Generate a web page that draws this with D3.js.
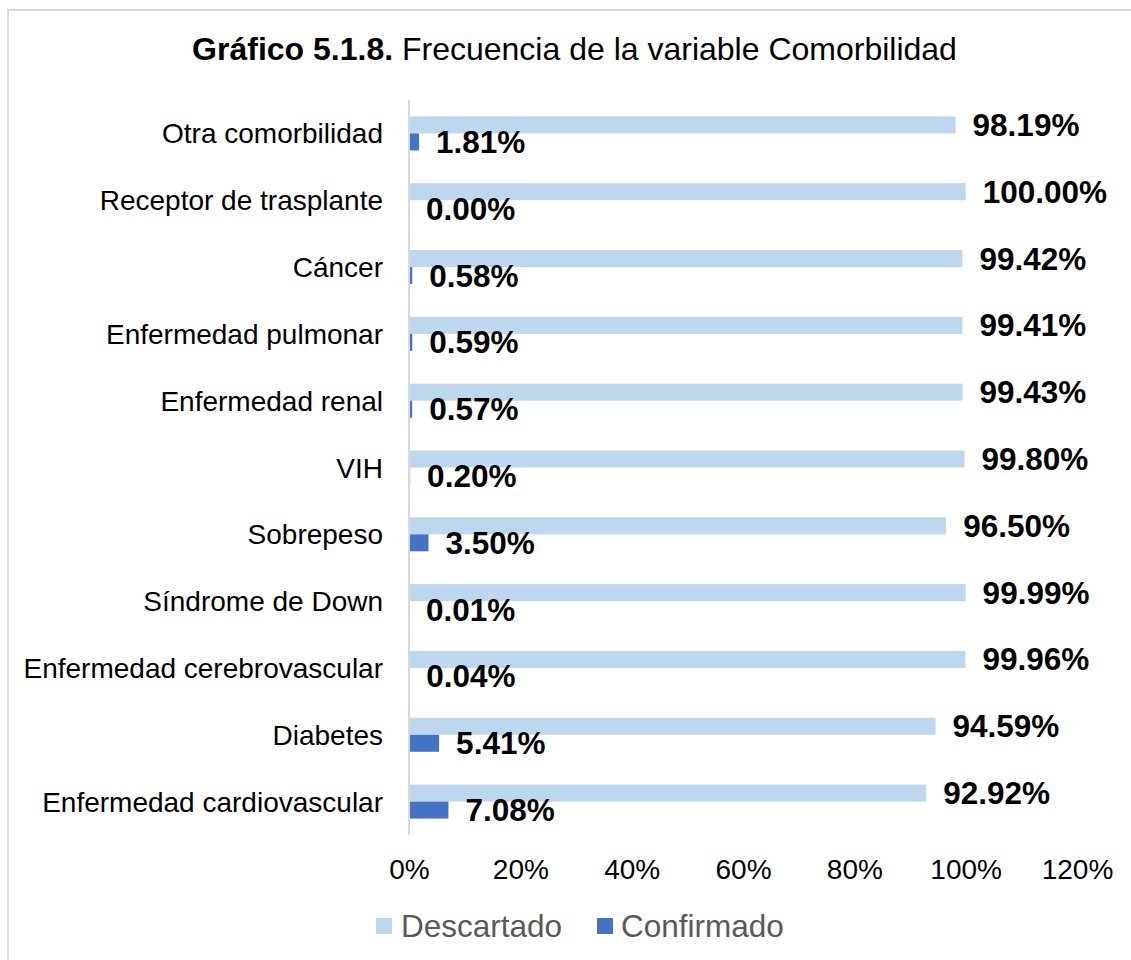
<!DOCTYPE html>
<html><head><meta charset="utf-8">
<script src="https://cdn.jsdelivr.net/npm/d3@7"></script>
<style>html,body{margin:0;padding:0;background:#fff;}svg{display:block;font-family:"Liberation Sans",Arial,sans-serif;}</style>
</head><body>
<svg id="c" width="1131" height="960"></svg>
<script>
const categories = ["Otra comorbilidad","Receptor de trasplante","Cáncer","Enfermedad pulmonar","Enfermedad renal","VIH","Sobrepeso","Síndrome de Down","Enfermedad cerebrovascular","Diabetes","Enfermedad cardiovascular"];
const descartado = [98.19,100.00,99.42,99.41,99.43,99.80,96.50,99.99,99.96,94.59,92.92];
const confirmado = [1.81,0.00,0.58,0.59,0.57,0.20,3.50,0.01,0.04,5.41,7.08];
const seriesNames = ["Descartado","Confirmado"];
const seriesColors = ["#BDD7EE","#4472C4"];
const xTicks = [0,20,40,60,80,100,120];

const svg = d3.select("#c");
// border
svg.append("rect").attr("x",8).attr("y",10).attr("width",1140).attr("height",960)
  .attr("fill","none").attr("stroke","#d9d9d9").attr("stroke-width",2);

// title
const title = svg.append("text").attr("x",574.5).attr("y",60).attr("text-anchor","middle")
  .attr("font-size",32).attr("fill","#000");
title.append("tspan").attr("font-weight","bold").text("Gráfico 5.1.8.");
title.append("tspan").text(" Frecuencia de la variable Comorbilidad");

const x = d3.scaleLinear().domain([0,120]).range([409,1077]);
const y = d3.scaleBand().domain(categories).range([100,835]).paddingInner(0).paddingOuter(0);
const ySub = d3.scaleBand().domain(seriesNames).range([0,y.bandwidth()]).paddingInner(0).paddingOuter(0.965);

const data = categories.map((c,i)=>({cat:c, vals:[descartado[i],confirmado[i]]}));

const g = svg.append("g");
data.forEach(d=>{
  seriesNames.forEach((s,k)=>{
    const v = d.vals[k];
    const yy = y(d.cat)+ySub(s);
    g.append("rect").attr("x",x(0)).attr("y",yy).attr("width",x(v)-x(0)).attr("height",ySub.bandwidth())
      .attr("fill",seriesColors[k]);
  });
});
// labels
data.forEach(d=>{
  seriesNames.forEach((s,k)=>{
    const v = d.vals[k];
    const yc = y(d.cat)+ySub(s)+ySub.bandwidth()/2;
    g.append("text").attr("x",x(v)+17).attr("y",yc+11).attr("font-size",31.5).attr("font-weight","bold")
      .attr("fill","#000").text(v.toFixed(2)+"%");
  });
});

// axis line
svg.append("line").attr("x1",x(0)).attr("x2",x(0)).attr("y1",100).attr("y2",835)
  .attr("stroke","#d9d9d9").attr("stroke-width",2);

// category labels
categories.forEach(c=>{
  svg.append("text").attr("x",383).attr("y",y(c)+y.bandwidth()/2+10).attr("text-anchor","end")
    .attr("font-size",28).attr("fill","#000").text(c);
});

// x tick labels
const xAxis = d3.axisBottom(x).tickValues(xTicks).tickFormat(d=>d+"%").tickSize(0).tickPadding(0);
const ax = svg.append("g").attr("transform","translate(0,859)").call(xAxis);
ax.select(".domain").remove();
ax.selectAll("text").attr("font-size",28).attr("fill","#000").attr("font-family","Liberation Sans, Arial, sans-serif")
  .attr("dy","0.71em");

// legend
const legend = [{name:"Descartado",sx:376,tx:401},{name:"Confirmado",sx:597,tx:621}];
legend.forEach((l,k)=>{
  svg.append("rect").attr("x",l.sx).attr("y",918).attr("width",16).attr("height",16).attr("fill",seriesColors[k]);
  svg.append("text").attr("x",l.tx).attr("y",937).attr("font-size",31.5).attr("fill","#595959").text(l.name);
});
</script>
</body></html>
